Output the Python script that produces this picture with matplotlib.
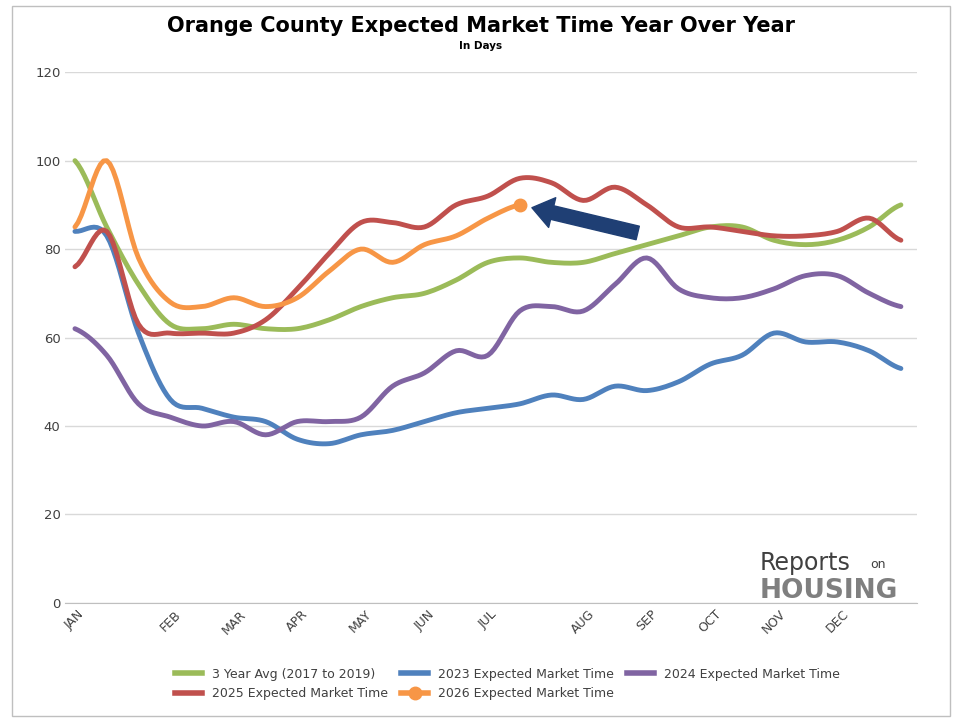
import matplotlib
matplotlib.use("Agg")
import matplotlib.pyplot as plt
from matplotlib.lines import Line2D
import numpy as np

months = ["JAN","FEB","MAR","APR","MAY","JUN","JUL","AUG","SEP","OCT","NOV","DEC"]
month_idx = [0,3,5,7,9,11,13,16,18,20,22,24]
avg3 = [100,85,72,63,62,63,62,62,64,67,69,70,73,77,78,77,77,79,81,83,85,85,82,81,82,85,90]
y2023 = [84,83,61,46,44,42,41,37,36,38,39,41,43,44,45,47,46,49,48,50,54,56,61,59,59,57,53]
y2024 = [62,56,45,42,40,41,38,41,41,42,49,52,57,56,66,67,66,72,78,71,69,69,71,74,74,70,67]
y2025 = [76,84,63,61,61,61,64,71,79,86,86,85,90,92,96,95,91,94,90,85,85,84,83,83,84,87,82]
y2026 = [85,100,78,68,67,69,67,69,75,80,77,81,83,87,90]

def smooth(y, n=10):
    y = np.asarray(y, float); xs = np.linspace(0, len(y)-1, (len(y)-1)*n+1)
    p = np.concatenate([[y[0]], y, [y[-1]]]); out=[]
    for i in range(len(y)-1):
        p0,p1,p2,p3 = p[i],p[i+1],p[i+2],p[i+3]
        for t in np.linspace(0,1,n,endpoint=False):
            out.append(0.5*((2*p1)+(-p0+p2)*t+(2*p0-5*p1+4*p2-p3)*t*t+(-p0+3*p1-3*p2+p3)*t**3))
    out.append(y[-1]); return xs, np.array(out)

fig = plt.figure(figsize=(9.62,7.22), dpi=100)
fig.add_artist(plt.Rectangle((0.012,0.008),0.976,0.984, fill=False, ec="#bfbfbf", lw=1, transform=fig.transFigure))
ax = fig.add_axes([0.068, 0.165, 0.885, 0.735])
series = [(avg3,"#9bbb59","3 Year Avg (2017 to 2019)"),(y2023,"#4f81bd","2023 Expected Market Time"),
          (y2024,"#8064a2","2024 Expected Market Time"),(y2025,"#c0504d","2025 Expected Market Time"),
          (y2026,"#f79646","2026 Expected Market Time")]
for y,c,l in series:
    xs, ys = smooth(y)
    ax.plot(xs, ys, color=c, lw=3.5, solid_capstyle="round")
ax.plot(len(y2026)-1, y2026[-1], "o", color="#f79646", ms=9, zorder=5)
ax.annotate("", xy=(14.3,89.5), xytext=(17.8,83.5),
            arrowprops=dict(arrowstyle="simple,head_width=2.2,head_length=1.5,tail_width=1.0", color="#1f3f74"))
ax.set_xlim(-0.3, 26.5); ax.set_ylim(0,120)
ax.set_yticks(range(0,121,20))
ax.set_xticks(month_idx); ax.set_xticklabels(months, rotation=45, fontsize=9, color="#404040")
ax.tick_params(axis="y", labelsize=9.5, colors="#404040", length=0)
ax.tick_params(axis="x", length=0)
ax.grid(axis="y", color="#d9d9d9", lw=1)
for s in ax.spines.values(): s.set_visible(False)
ax.spines["bottom"].set_visible(True); ax.spines["bottom"].set_color("#bfbfbf")
fig.text(0.5, 0.955, "Orange County Expected Market Time Year Over Year", ha="center", fontsize=15, fontweight="bold")
fig.text(0.5, 0.932, "In Days", ha="center", fontsize=7.5, fontweight="bold")
fig.text(0.79, 0.21, "Reports", fontsize=17, color="#404040", ha="left")
fig.text(0.905, 0.213, "on", fontsize=9, color="#404040", ha="left")
fig.text(0.79, 0.172, "HOUSING", fontsize=19, fontweight="bold", color="#7f7f7f", ha="left")
handles = [Line2D([],[],color=c,lw=4, marker="o" if l.startswith("2026") else None, ms=9) for _,c,l in series]
labels = [l for _,_,l in series]
order = [0,3,1,4,2]
leg = fig.legend([handles[i] for i in order], [labels[i] for i in order], loc="lower left",
           bbox_to_anchor=(0.17, 0.015), ncol=3, frameon=False,
           fontsize=9, handlelength=2.2, columnspacing=1.0, labelcolor="#404040")
fig.savefig("out.png", dpi=100)
